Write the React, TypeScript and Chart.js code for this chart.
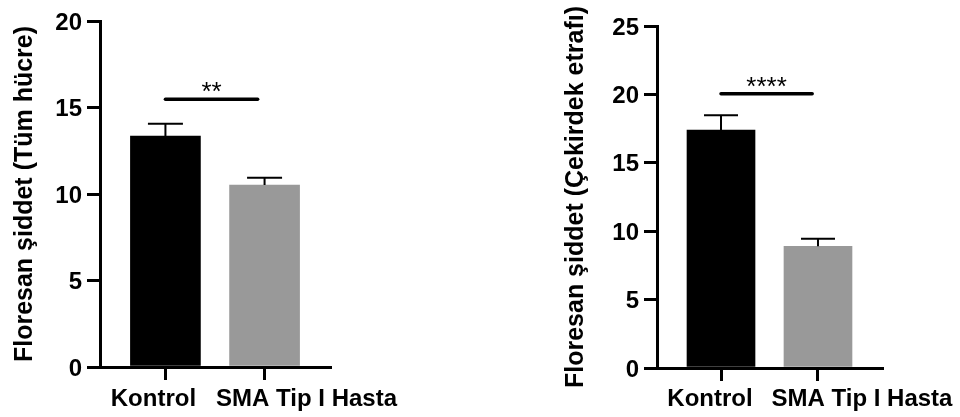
import React, { useEffect, useRef } from 'react';
import { Chart, registerables } from 'chart.js';

Chart.register(...registerables);

// ---------- data ----------
const categories = ['Kontrol', 'SMA Tip I Hasta'];
const barColors = ['#000000', '#999999'];

const leftTitle = 'Floresan şiddet (Tüm hücre)';
const leftMeans = [13.35, 10.52];
const leftErrors = [0.71, 0.42];
const leftTicks = [0, 5, 10, 15, 20];
const leftSigY = 15.48;
const leftSigSpan = [0, 0.93];
const leftSigLabel = '**';

const rightTitle = 'Floresan şiddet (Çekirdek etrafı)';
const rightMeans = [17.39, 8.9];
const rightErrors = [1.08, 0.54];
const rightTicks = [0, 5, 10, 15, 20, 25];
const rightSigY = 20.05;
const rightSigSpan = [0, 0.94];
const rightSigLabel = '****';

// ---------- layout / style ----------
const FONT = '"Liberation Sans", Arial, Helvetica, sans-serif';

type Panel = {
  title: string;
  means: number[];
  errors: number[];
  ticks: number[];
  sigY: number;
  sigSpan: number[];
  sigLabel: string;
  left: number;
  width: number;
  axisW: number;
  padTop: number;
  padRight: number;
  xAxisH: number;
  titlePad: number;
  barThickness: number;
  labelShift: number[];
};

const panels: Panel[] = [
  {
    title: leftTitle, means: leftMeans, errors: leftErrors, ticks: leftTicks,
    sigY: leftSigY, sigSpan: leftSigSpan, sigLabel: leftSigLabel,
    left: 0, width: 420, axisW: 100, padTop: 21, padRight: 90, xAxisH: 50,
    titlePad: 10, barThickness: 70, labelShift: [-12, 42],
  },
  {
    title: rightTitle, means: rightMeans, errors: rightErrors, ticks: rightTicks,
    sigY: rightSigY, sigSpan: rightSigSpan, sigLabel: rightSigLabel,
    left: 520, width: 440, axisW: 137, padTop: 26, padRight: 78, xAxisH: 49,
    titlePad: 41, barThickness: 68, labelShift: [-11, 44],
  },
];

const HEIGHT = 417;

function BarPanel({ p }: { p: Panel }) {
  const ref = useRef<HTMLCanvasElement>(null);
  useEffect(() => {
    if (!ref.current) return;
    const overlay = {
      id: 'overlay',
      afterDatasetsDraw(chart: any) {
        const ctx = chart.ctx;
        const xs = chart.scales.x;
        const ys = chart.scales.y;
        ctx.save();
        // error bars (upper only)
        ctx.strokeStyle = '#000';
        ctx.lineWidth = 2;
        ctx.lineCap = 'butt';
        p.means.forEach((m, i) => {
          const x = xs.getPixelForValue(i);
          const yM = ys.getPixelForValue(m);
          const yT = ys.getPixelForValue(m + p.errors[i]);
          const hw = p.barThickness / 4;
          ctx.beginPath();
          ctx.moveTo(x, yM);
          ctx.lineTo(x, yT);
          ctx.moveTo(x - hw, yT);
          ctx.lineTo(x + hw, yT);
          ctx.stroke();
        });
        // significance line
        const sy = ys.getPixelForValue(p.sigY);
        const sx0 = xs.getPixelForValue(p.sigSpan[0]);
        const sx1 = xs.getPixelForValue(p.sigSpan[1]);
        ctx.lineWidth = 3.5;
        ctx.lineCap = 'round';
        ctx.beginPath();
        ctx.moveTo(sx0, sy);
        ctx.lineTo(sx1, sy);
        ctx.stroke();
        ctx.fillStyle = '#000';
        ctx.font = `26px ${FONT}`;
        ctx.textAlign = 'center';
        ctx.textBaseline = 'alphabetic';
        ctx.fillText(p.sigLabel, (sx0 + sx1) / 2, sy + 1);
        ctx.restore();
      },
      afterDraw(chart: any) {
        const ctx = chart.ctx;
        const xs = chart.scales.x;
        ctx.save();
        ctx.fillStyle = '#000';
        ctx.font = `bold 24px ${FONT}`;
        ctx.textAlign = 'center';
        ctx.textBaseline = 'alphabetic';
        categories.forEach((c, i) => {
          const x = xs.getPixelForValue(i) + p.labelShift[i];
          ctx.fillText(c, x, 406);
        });
        ctx.restore();
      },
    };

    const chart = new Chart(ref.current, {
      type: 'bar',
      data: {
        datasets: [
          {
            data: p.means.map((m, i) => ({ x: i, y: m })),
            backgroundColor: barColors,
            borderWidth: 0,
            barThickness: p.barThickness,
          } as any,
        ],
      },
      options: {
        responsive: false,
        animation: false,
        devicePixelRatio: 1,
        layout: { padding: { left: 0, right: p.padRight, top: p.padTop, bottom: 0 } },
        plugins: { legend: { display: false }, tooltip: { enabled: false }, title: { display: false } },
        scales: {
          x: {
            type: 'linear',
            min: -0.66,
            max: 1.66,
            offset: false,
            z: 1,
            afterBuildTicks: (s: any) => { s.ticks = categories.map((_, i) => ({ value: i })); },
            afterFit: (s: any) => { s.height = p.xAxisH; },
            ticks: { display: false },
            grid: { offset: false, drawOnChartArea: false, drawTicks: true, tickLength: 13, lineWidth: 3, color: '#000' },
            border: { display: true, color: '#000', width: 3 },
          },
          y: {
            type: 'linear',
            min: p.ticks[0],
            max: p.ticks[p.ticks.length - 1],
            z: 1,
            afterBuildTicks: (s: any) => { s.ticks = p.ticks.map((v) => ({ value: v })); },
            afterFit: (s: any) => { s.width = p.axisW; },
            ticks: {
              color: '#000',
              padding: 5,
              labelOffset: 2,
              font: { family: FONT, size: 24, weight: 'bold' },
            },
            grid: { drawOnChartArea: false, drawTicks: true, tickLength: 13, lineWidth: 3, color: '#000' },
            border: { display: true, color: '#000', width: 3 },
            title: {
              display: true,
              text: p.title,
              color: '#000',
              font: { family: FONT, size: 25, weight: 'bold' },
              padding: { top: p.titlePad, bottom: 0 },
            },
          },
        },
      },
      plugins: [overlay],
    } as any);
    return () => chart.destroy();
  }, [p]);
  return (
    <canvas
      ref={ref}
      width={p.width}
      height={HEIGHT}
      style={{ position: 'absolute', left: p.left, top: 0, width: p.width, height: HEIGHT }}
    />
  );
}

export default function App() {
  return (
    <div
      style={{
        position: 'fixed',
        left: 0,
        top: 0,
        width: 960,
        height: HEIGHT,
        background: '#fff',
        overflow: 'hidden',
      }}
    >
      {panels.map((p, i) => (
        <BarPanel key={i} p={p} />
      ))}
    </div>
  );
}
